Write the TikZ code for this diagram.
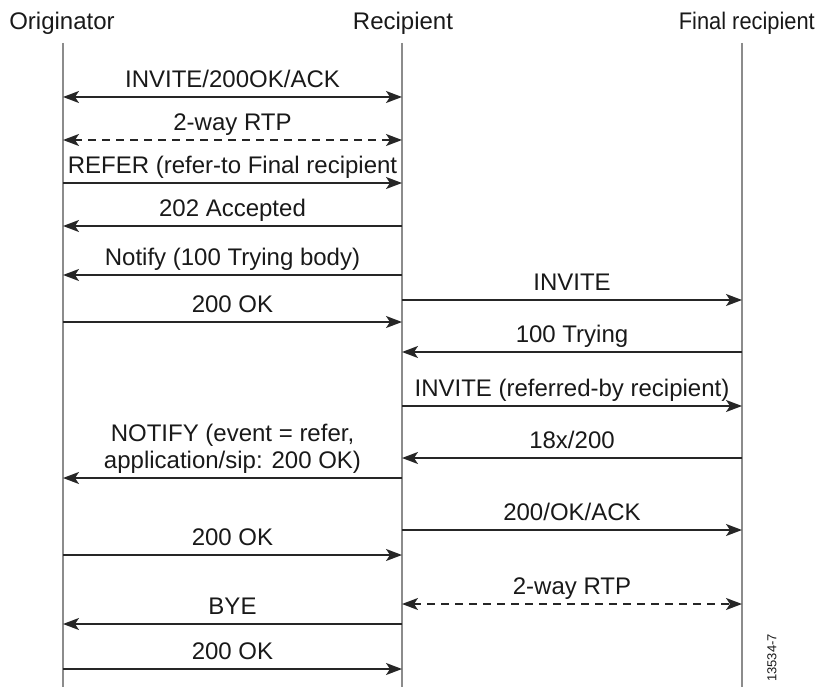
\documentclass[tikz,border=0pt]{standalone}
\usepackage{fontspec}
\setmainfont{Liberation Sans}
\usetikzlibrary{arrows.meta}

\begin{document}
\begin{tikzpicture}[x=1pt,y=-1pt,>={Stealth[length=16pt,width=12pt,inset=4pt]},
                    font=\fontsize{24}{27}\selectfont,text=black!90]
  \tikzstyle{life}=[draw=black!45,line width=1.8pt]
  \tikzstyle{msg}=[draw=black!85,line width=1.8pt,->]
  \tikzstyle{rtp}=[msg,<->,dash pattern=on 8pt off 6pt]
  \tikzstyle{lbl}=[above=9pt,inner sep=0pt,text depth=0pt,align=center]
  \useasboundingbox (0,0) rectangle (819,687);

  % parties and lifelines
  \node[anchor=base] (orig) at (62,30)  {Originator};
  \node[anchor=base] (recp) at (403,30) {Recipient};
  \node[anchor=base east,inner sep=0pt,xscale=0.91] (finl) at (815,30) {Final recipient};
  \coordinate (O) at (63,43);
  \coordinate (R) at (402,43);
  \coordinate (F) at (742,43);
  \draw[life] (O) -- (O |- 0,687);
  \draw[life] (R) -- (R |- 0,687);
  \draw[life] (F) -- (F |- 0,687);

  % originator <-> recipient
  \draw[msg,<->] (O |- 0,97)  -- node[lbl] {INVITE/200OK/ACK} (R |- 0,97);
  \draw[rtp]     (O |- 0,140) -- node[lbl] {2-way RTP} (R |- 0,140);
  \draw[msg]     (O |- 0,183) -- node[lbl] {REFER (refer-to Final recipient} (R |- 0,183);
  \draw[msg]     (R |- 0,226) -- node[lbl] {202 Accepted} (O |- 0,226);
  \draw[msg]     (R |- 0,275) -- node[lbl] {Notify (100 Trying body)} (O |- 0,275);
  \draw[msg]     (O |- 0,322) -- node[lbl] {200 OK} (R |- 0,322);

  % recipient <-> final recipient
  \draw[msg]     (R |- 0,300) -- node[lbl] {INVITE} (F |- 0,300);
  \draw[msg]     (F |- 0,352) -- node[lbl] {100 Trying} (R |- 0,352);
  \draw[msg]     (R |- 0,406) -- node[lbl] {INVITE (referred-by recipient)} (F |- 0,406);
  \draw[msg]     (F |- 0,458) -- node[lbl] {18x/200} (R |- 0,458);

  \draw[msg]     (R |- 0,478) -- node[lbl] {NOTIFY (event = refer,\\application/sip: 200 OK)} (O |- 0,478);
  \draw[msg]     (R |- 0,530) -- node[lbl] {200/OK/ACK} (F |- 0,530);
  \draw[msg]     (O |- 0,555) -- node[lbl] {200 OK} (R |- 0,555);
  \draw[rtp]     (R |- 0,604) -- node[lbl] {2-way RTP} (F |- 0,604);
  \draw[msg]     (R |- 0,624) -- node[lbl] {BYE} (O |- 0,624);
  \draw[msg]     (O |- 0,669) -- node[lbl] {200 OK} (R |- 0,669);

  \node[rotate=90,font=\fontsize{13}{15}\selectfont] (tag) at (772,658) {13534-7};
\end{tikzpicture}
\end{document}
